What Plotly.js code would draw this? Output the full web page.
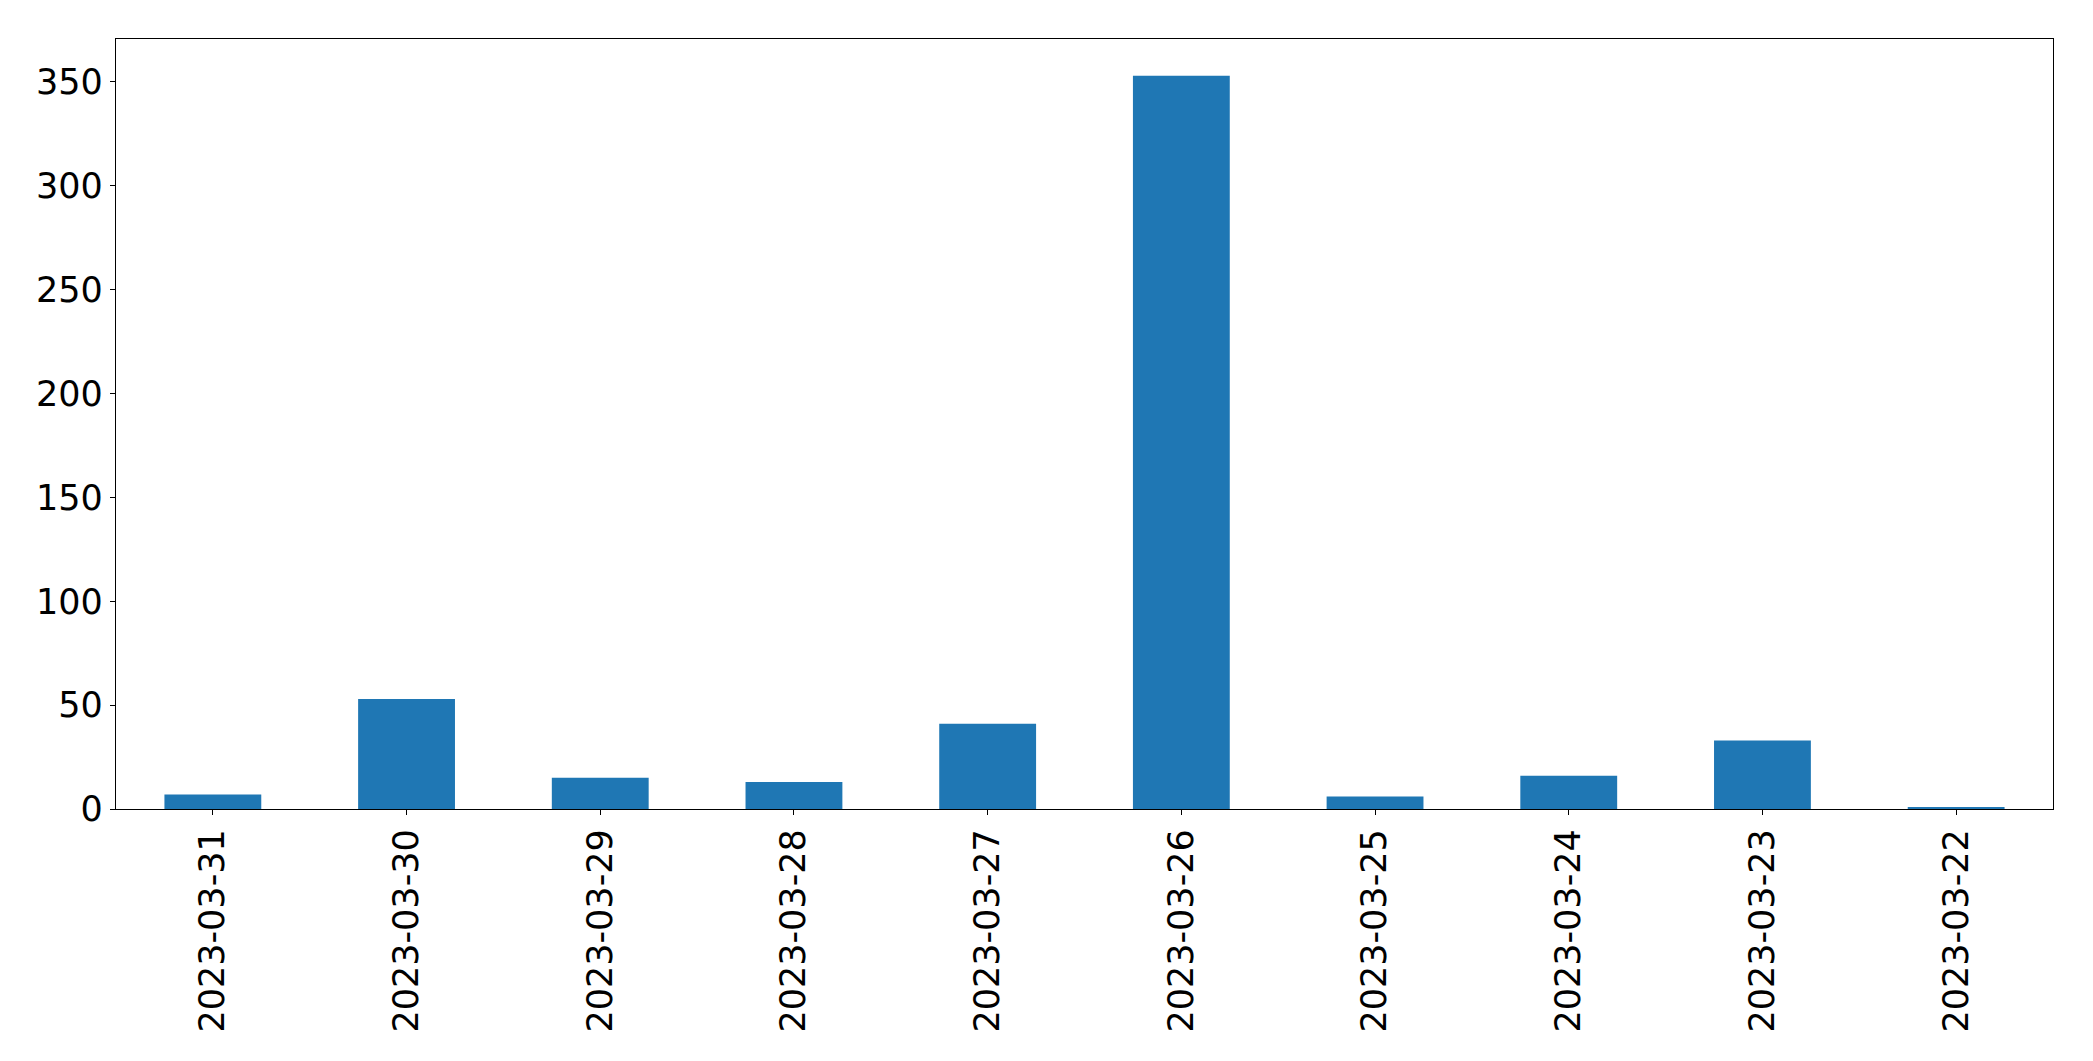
<!DOCTYPE html>
<html>
<head>
<meta charset="utf-8">
<script src="https://cdn.plot.ly/plotly-3.0.1.min.js"></script>
<style>html,body{margin:0;padding:0;background:#fff;}#chart{width:2093px;height:1061px;}</style>
</head>
<body>
<div id="chart"></div>
<script>
const dates = ["2023-03-31","2023-03-30","2023-03-29","2023-03-28","2023-03-27","2023-03-26","2023-03-25","2023-03-24","2023-03-23","2023-03-22"];
const counts = [7, 53, 15, 13, 41, 353, 6, 16, 33, 1];
const yTicks = [0, 50, 100, 150, 200, 250, 300, 350];

const trace = {
  type: 'bar',
  x: dates,
  y: counts,
  width: 0.5,
  marker: {color: '#1f77b4', line: {width: 0}},
  hoverinfo: 'x+y'
};

const layout = {
  width: 2093,
  height: 1061,
  margin: {l: 116, r: 40, t: 39, b: 252, pad: 0},
  paper_bgcolor: '#ffffff',
  plot_bgcolor: '#ffffff',
  showlegend: false,
  font: {family: 'DejaVu Sans, sans-serif', size: 35, color: '#000000'},
  xaxis: {
    type: 'category',
    range: [-0.5, 9.5],
    tickangle: -90,
    ticks: 'outside',
    ticklen: 5,
    tickwidth: 1,
    tickcolor: '#000',
    showline: true,
    linecolor: '#000',
    linewidth: 1.2,
    mirror: true,
    showgrid: false,
    zeroline: false,
    tickfont: {family: 'DejaVu Sans, sans-serif', size: 35, color: '#000'}
  },
  yaxis: {
    range: [0, 353 * 1.05],
    tickmode: 'array',
    tickvals: yTicks,
    ticktext: yTicks.map(String),
    ticks: 'outside',
    ticklen: 5,
    tickwidth: 1,
    tickcolor: '#000',
    showline: true,
    linecolor: '#000',
    linewidth: 1.2,
    mirror: true,
    showgrid: false,
    zeroline: false,
    tickfont: {family: 'DejaVu Sans, sans-serif', size: 35, color: '#000'}
  }
};

Plotly.newPlot('chart', [trace], layout, {displayModeBar: false, staticPlot: true});
</script>
</body>
</html>
